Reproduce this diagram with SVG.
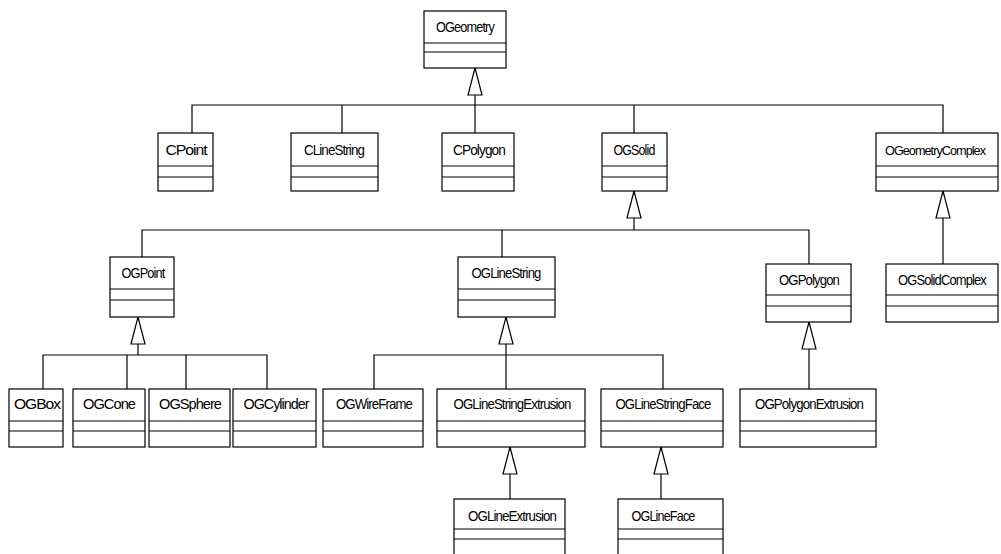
<svg xmlns="http://www.w3.org/2000/svg" width="1001" height="554" viewBox="0 0 1001 554">
<style>
.box{fill:#fff;stroke:#000;stroke-width:1.2}
.sep{stroke:#000;stroke-width:1.1}
.lbl{font-family:"Liberation Sans",Arial,sans-serif;font-size:15px;fill:#000;text-anchor:middle;letter-spacing:-1px}
.sm{font-size:13px}
.con{fill:none;stroke:#000;stroke-width:1.2}
</style>
<defs>
<marker id="gen" viewBox="0 0 27 14" refX="27" refY="7" markerWidth="27" markerHeight="14" markerUnits="userSpaceOnUse" orient="auto" overflow="visible">
<path d="M0,0 L27,7 L0,14 Z" fill="#fff" stroke="#000" stroke-width="1.2"/>
</marker>
</defs>
<rect width="1001" height="554" fill="#fff"/>
<g id="connectors">
<path class="con" d="M192,133 V105 H943 V133 M342,105 V133 M634,105 V133"/>
<path class="con" d="M475,133 V68" marker-end="url(#gen)"/>
<path class="con" d="M142,257 V230 H809 V264 M502,230 V257"/>
<path class="con" d="M634,230 V191" marker-end="url(#gen)"/>
<path class="con" d="M943,264 V191" marker-end="url(#gen)"/>
<path class="con" d="M43,389 V355 H267 V389 M127,355 V389 M186,355 V389"/>
<path class="con" d="M138,355 V317" marker-end="url(#gen)"/>
<path class="con" d="M374,389 V355 H663 V389"/>
<path class="con" d="M506,389 V317" marker-end="url(#gen)"/>
<path class="con" d="M809,389 V322" marker-end="url(#gen)"/>
<path class="con" d="M510,499 V447" marker-end="url(#gen)"/>
<path class="con" d="M661,499 V447" marker-end="url(#gen)"/>
</g>
<g id="OGeometry"><rect class="box" x="424" y="11" width="82" height="57"/><path class="sep" d="M424,43 H506 M424,52 H506"/><text class="lbl" x="465" y="32" textLength="58" lengthAdjust="spacingAndGlyphs">OGeometry</text></g>
<g id="CPoint"><rect class="box" x="158" y="133" width="55" height="58"/><path class="sep" d="M158,166 H213 M158,177 H213"/><text class="lbl" x="186" y="155" textLength="41" lengthAdjust="spacingAndGlyphs">CPoint</text></g>
<g id="CLineString"><rect class="box" x="291" y="133" width="87" height="58"/><path class="sep" d="M291,166 H378 M291,177 H378"/><text class="lbl" x="334" y="155" textLength="60" lengthAdjust="spacingAndGlyphs">CLineString</text></g>
<g id="CPolygon"><rect class="box" x="442" y="133" width="72" height="58"/><path class="sep" d="M442,166 H514 M442,177 H514"/><text class="lbl" x="479" y="155" textLength="52" lengthAdjust="spacingAndGlyphs">CPolygon</text></g>
<g id="OGSolid"><rect class="box" x="602" y="133" width="65" height="58"/><path class="sep" d="M602,166 H667 M602,177 H667"/><text class="lbl" x="634" y="155" textLength="41" lengthAdjust="spacingAndGlyphs">OGSolid</text></g>
<g id="OGeometryComplex"><rect class="box" x="876" y="133" width="122" height="58"/><path class="sep" d="M876,166 H998 M876,177 H998"/><text class="lbl sm" x="935" y="155" textLength="100" lengthAdjust="spacingAndGlyphs">OGeometryComplex</text></g>
<g id="OGPoint"><rect class="box" x="110" y="257" width="64" height="60"/><path class="sep" d="M110,289 H174 M110,300 H174"/><text class="lbl" x="143" y="278" textLength="43" lengthAdjust="spacingAndGlyphs">OGPoint</text></g>
<g id="OGLineString"><rect class="box" x="458" y="257" width="97" height="60"/><path class="sep" d="M458,289 H555 M458,300 H555"/><text class="lbl" x="506" y="278" textLength="69" lengthAdjust="spacingAndGlyphs">OGLineString</text></g>
<g id="OGPolygon"><rect class="box" x="766" y="264" width="85" height="58"/><path class="sep" d="M766,295 H851 M766,306 H851"/><text class="lbl" x="809" y="285" textLength="60" lengthAdjust="spacingAndGlyphs">OGPolygon</text></g>
<g id="OGSolidComplex"><rect class="box" x="886" y="264" width="112" height="58"/><path class="sep" d="M886,295 H998 M886,306 H998"/><text class="lbl" x="942" y="285" textLength="88" lengthAdjust="spacingAndGlyphs">OGSolidComplex</text></g>
<g id="OGBox"><rect class="box" x="9" y="389" width="54" height="58"/><path class="sep" d="M9,421 H63 M9,431 H63"/><text class="lbl" x="37" y="409" textLength="46" lengthAdjust="spacingAndGlyphs">OGBox</text></g>
<g id="OGCone"><rect class="box" x="73" y="389" width="72" height="58"/><path class="sep" d="M73,421 H145 M73,431 H145"/><text class="lbl" x="109" y="409" textLength="52" lengthAdjust="spacingAndGlyphs">OGCone</text></g>
<g id="OGSphere"><rect class="box" x="149" y="389" width="81" height="58"/><path class="sep" d="M149,421 H230 M149,431 H230"/><text class="lbl" x="190" y="409" textLength="62" lengthAdjust="spacingAndGlyphs">OGSphere</text></g>
<g id="OGCylinder"><rect class="box" x="233" y="389" width="83" height="58"/><path class="sep" d="M233,421 H316 M233,431 H316"/><text class="lbl" x="276" y="409" textLength="65" lengthAdjust="spacingAndGlyphs">OGCylinder</text></g>
<g id="OGWireFrame"><rect class="box" x="323" y="389" width="100" height="58"/><path class="sep" d="M323,421 H423 M323,431 H423"/><text class="lbl" x="374" y="409" textLength="76" lengthAdjust="spacingAndGlyphs">OGWireFrame</text></g>
<g id="OGLineStringExtrusion"><rect class="box" x="437" y="389" width="148" height="58"/><path class="sep" d="M437,421 H585 M437,431 H585"/><text class="lbl" x="512" y="409" textLength="117" lengthAdjust="spacingAndGlyphs">OGLineStringExtrusion</text></g>
<g id="OGLineStringFace"><rect class="box" x="601" y="389" width="122" height="58"/><path class="sep" d="M601,421 H723 M601,431 H723"/><text class="lbl" x="663" y="409" textLength="95" lengthAdjust="spacingAndGlyphs">OGLineStringFace</text></g>
<g id="OGPolygonExtrusion"><rect class="box" x="740" y="389" width="136" height="58"/><path class="sep" d="M740,421 H876 M740,431 H876"/><text class="lbl" x="809" y="409" textLength="108" lengthAdjust="spacingAndGlyphs">OGPolygonExtrusion</text></g>
<g id="OGLineExtrusion"><rect class="box" x="454" y="499" width="111" height="62"/><path class="sep" d="M454,529 H565 M454,539 H565"/><text class="lbl" x="512" y="521" textLength="88" lengthAdjust="spacingAndGlyphs">OGLineExtrusion</text></g>
<g id="OGLineFace"><rect class="box" x="618" y="499" width="105" height="62"/><path class="sep" d="M618,529 H723 M618,539 H723"/><text class="lbl" x="663" y="521" textLength="63" lengthAdjust="spacingAndGlyphs">OGLineFace</text></g>
</svg>
